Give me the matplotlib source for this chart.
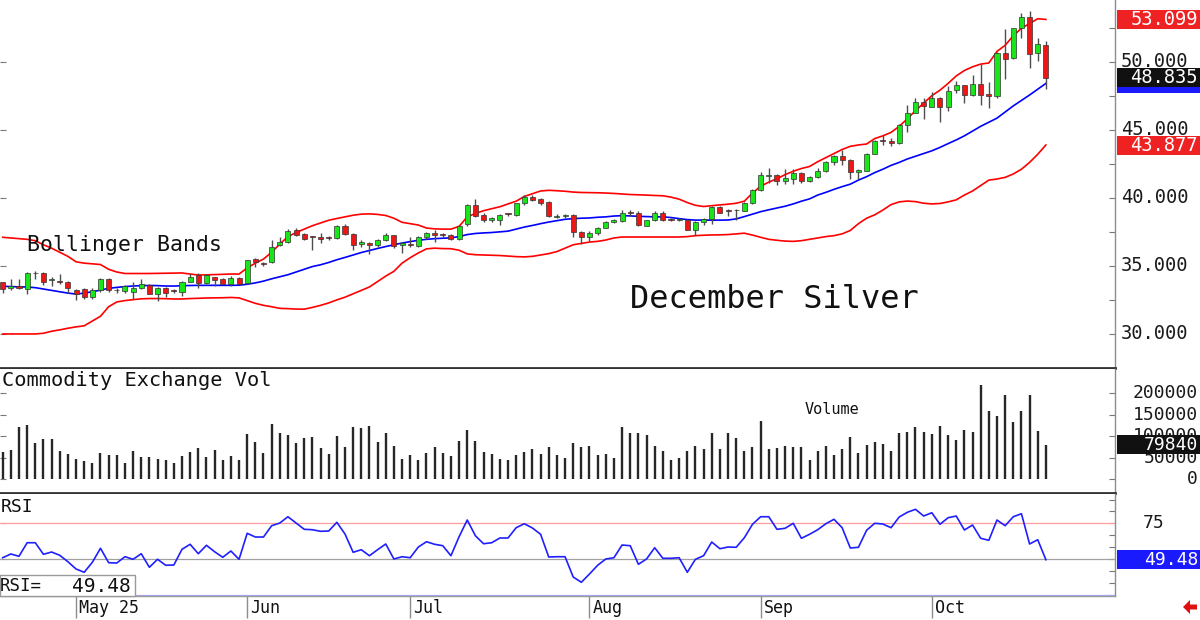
import matplotlib
matplotlib.use("Agg")
import matplotlib.pyplot as plt
from matplotlib.patches import Rectangle, Polygon
from matplotlib.transforms import blended_transform_factory
import numpy as np

# ---------------- data ----------------
opens = [33.8, 33.4, 33.5, 33.3, 34.5, 34.5, 33.95, 33.9, 33.8, 33.2,
         33.3, 32.75, 33.2, 34.05, 33.25, 33.15, 33.1, 33.4, 33.6, 32.95,
         33.4, 33.2, 33.1, 33.85, 34.3, 33.75, 34.15, 34.0, 33.65, 34.1,
         33.75, 35.5, 35.2, 35.25, 36.5, 36.75, 37.6, 37.35, 37.15, 37.1,
         37.1, 37.05, 37.9, 37.35, 36.6, 36.65, 36.55, 36.9, 37.25, 36.55,
         36.6, 36.45, 37.1, 37.4, 37.3, 37.3, 36.95, 38.05, 39.45, 38.75,
         38.35, 38.4, 38.82, 38.75, 39.6, 40.05, 39.9, 39.7, 38.6, 38.68,
         38.75, 37.5, 37.1, 37.4, 37.8, 38.2, 38.3, 38.95, 38.9, 37.95,
         38.35, 38.9, 38.45, 38.38, 38.4, 37.65, 38.22, 38.45, 39.35, 39.1,
         39.12, 39.05, 39.6, 40.6, 41.58, 41.65, 41.2, 41.35, 41.85, 41.2,
         41.5, 41.95, 42.6, 43.1, 42.8, 41.9, 42.0, 43.25, 44.22, 44.2,
         44.0, 45.35, 46.25, 47.05, 46.7, 47.35, 46.7, 47.95, 48.25, 47.55,
         48.35, 47.6, 47.45, 50.6, 50.25, 52.5, 53.3, 50.6, 51.25]
highs = [33.85, 34.0, 34.05, 34.55, 34.6, 34.55, 34.15, 34.4, 33.9, 33.3,
         33.35, 33.4, 34.1, 34.1, 33.4, 33.6, 33.8, 34.0, 33.65, 33.45,
         33.45, 33.3, 33.9, 34.4, 34.45, 34.4, 34.2, 34.1, 34.25, 34.15,
         35.45, 35.55, 35.3, 36.9, 37.1, 37.7, 37.75, 37.45, 37.2, 37.4,
         37.2, 38.0, 38.05, 37.4, 36.9, 36.75, 36.95, 37.4, 37.3, 36.75,
         37.15, 37.2, 37.5, 37.6, 37.4, 37.35, 38.0, 39.55, 39.9, 38.9,
         38.6, 38.8, 38.9, 39.65, 40.2, 40.2, 40.0, 39.75, 38.8, 38.8,
         38.8, 37.55, 37.55, 37.85, 38.3, 38.45, 39.1, 39.1, 39.0, 38.4,
         39.0, 39.05, 38.5, 38.5, 38.45, 38.3, 38.55, 39.4, 39.4, 39.15,
         39.2, 39.7, 40.65, 41.9, 42.2, 41.75, 42.1, 42.15, 41.9, 41.6,
         42.2, 42.7, 43.15, 43.5, 42.85, 42.15, 43.3, 44.25, 44.6, 44.4,
         45.4, 46.85, 47.3, 47.3, 47.8, 47.4, 48.2, 48.6, 48.3, 49.05,
         49.85, 48.5, 50.7, 52.4, 52.5, 53.55, 53.7, 51.7, 51.55]
lows = [33.0, 33.2, 33.3, 32.9, 34.0, 33.6, 33.5, 33.7, 33.0, 32.5,
        32.6, 32.6, 33.1, 33.1, 33.0, 33.0, 32.6, 33.3, 32.9, 32.4,
        32.7, 33.0, 32.8, 33.8, 33.4, 33.7, 33.5, 33.65, 33.55, 33.65,
        33.7, 34.9, 35.0, 35.2, 36.45, 36.7, 37.2, 36.9, 36.2, 36.7,
        36.9, 37.0, 37.25, 36.2, 36.4, 35.85, 36.4, 36.85, 36.3, 35.95,
        36.4, 36.4, 37.0, 36.75, 37.1, 36.9, 36.9, 37.9, 38.6, 38.2,
        38.25, 38.0, 38.7, 38.7, 39.5, 39.75, 39.45, 38.6, 38.5, 38.5,
        37.1, 36.6, 36.8, 37.3, 37.75, 38.15, 38.2, 38.7, 37.95, 37.9,
        38.3, 38.3, 38.3, 38.3, 37.6, 37.3, 38.0, 38.05, 38.85, 38.7,
        38.4, 39.0, 39.55, 40.5, 41.1, 40.95, 41.0, 41.0, 41.1, 41.15,
        41.45, 41.9, 42.4, 42.4, 41.4, 41.4, 41.95, 43.2, 43.85, 43.8,
        43.95, 44.8, 46.2, 45.8, 46.65, 45.6, 46.4, 47.7, 46.95, 47.5,
        46.8, 46.6, 47.3, 48.7, 50.2, 51.7, 49.55, 50.05, 48.0]
closes = [33.3, 33.5, 33.4, 34.5, 34.45, 33.8, 34.0, 33.8, 33.4, 32.95,
          32.75, 33.2, 34.05, 33.2, 33.2, 33.5, 33.4, 33.65, 32.95, 33.4,
          33.0, 33.15, 33.85, 34.2, 33.75, 34.3, 33.95, 33.7, 34.1, 33.7,
          35.4, 35.25, 35.15, 36.4, 36.75, 37.55, 37.25, 37.0, 37.1, 36.95,
          37.05, 37.9, 37.35, 36.55, 36.75, 36.55, 36.9, 37.25, 36.45, 36.65,
          36.5, 37.1, 37.4, 37.3, 37.25, 36.95, 37.95, 39.45, 38.7, 38.35,
          38.5, 38.75, 38.8, 39.6, 40.05, 39.85, 39.6, 38.7, 38.7, 38.72,
          37.5, 37.1, 37.45, 37.8, 38.25, 38.35, 38.85, 38.9, 38.0, 38.35,
          38.9, 38.4, 38.4, 38.42, 37.65, 38.25, 38.45, 39.3, 38.9, 39.0,
          39.08, 39.6, 40.6, 41.65, 41.62, 41.2, 41.45, 41.85, 41.2, 41.55,
          41.95, 42.6, 43.1, 42.8, 41.9, 42.05, 43.25, 44.2, 44.18, 44.0,
          45.35, 46.25, 47.0, 46.75, 47.35, 46.7, 47.85, 48.3, 47.55, 48.35,
          47.55, 47.45, 50.65, 50.2, 52.45, 53.3, 50.55, 51.3, 48.835]

bb_upper = [37.1, 37.05, 37.0, 36.95, 36.85, 36.55, 36.3, 36.0, 35.7, 35.3,
            35.2, 35.15, 35.1, 34.75, 34.55, 34.44, 34.44, 34.44, 34.44, 34.45,
            34.46, 34.47, 34.48, 34.4, 34.33, 34.34, 34.36, 34.38, 34.4, 34.4,
            34.85, 35.2, 35.5, 36.0, 36.6, 37.15, 37.45, 37.7, 37.95, 38.15,
            38.35, 38.48, 38.6, 38.72, 38.8, 38.82, 38.78, 38.7, 38.5, 38.2,
            38.1, 38.0, 37.78, 37.72, 37.7, 37.7, 37.9, 38.6, 38.85, 39.05,
            39.2, 39.34, 39.55, 39.75, 40.1, 40.3, 40.5, 40.55, 40.52, 40.48,
            40.42, 40.39, 40.38, 40.37, 40.35, 40.32, 40.28, 40.24, 40.22, 40.2,
            40.17, 40.15, 40.05, 39.9, 39.65, 39.45, 39.36, 39.42, 39.48, 39.53,
            39.6, 39.75, 40.35, 40.85, 41.15, 41.4, 41.7, 41.95, 42.15, 42.3,
            42.65, 42.95, 43.25, 43.55, 43.78, 43.88, 43.95, 44.35, 44.55, 44.8,
            45.25, 45.8, 46.4, 46.95, 47.5, 47.9, 48.4, 48.95, 49.35, 49.62,
            49.82, 49.9, 50.75, 51.2, 51.9, 52.45, 52.8, 53.15, 53.099]
bb_middle = [33.5, 33.48, 33.46, 33.45, 33.4, 33.3, 33.2, 33.1, 33.0, 32.93,
             33.0, 33.1, 33.22, 33.35, 33.42, 33.48, 33.52, 33.55, 33.56, 33.55,
             33.52, 33.52, 33.54, 33.56, 33.57, 33.57, 33.57, 33.57, 33.57, 33.58,
             33.65, 33.75, 33.88, 34.05, 34.2, 34.35, 34.55, 34.75, 34.95, 35.08,
             35.25, 35.45, 35.62, 35.8, 35.98, 36.13, 36.28, 36.42, 36.55, 36.68,
             36.78, 36.88, 36.95, 37.0, 37.03, 37.06, 37.15, 37.3, 37.38, 37.42,
             37.45, 37.5, 37.55, 37.7, 37.85, 37.97, 38.1, 38.22, 38.32, 38.42,
             38.47, 38.5, 38.52, 38.57, 38.6, 38.66, 38.69, 38.67, 38.64, 38.62,
             38.6, 38.6, 38.55, 38.47, 38.4, 38.36, 38.36, 38.36, 38.36, 38.37,
             38.45, 38.62, 38.8, 38.98, 39.12, 39.25, 39.38, 39.55, 39.75, 39.92,
             40.2, 40.4, 40.62, 40.82, 41.0, 41.3, 41.55, 41.85, 42.1, 42.38,
             42.6, 42.85, 43.05, 43.25, 43.45, 43.7, 43.98, 44.25, 44.55, 44.9,
             45.25, 45.55, 45.85, 46.3, 46.75, 47.15, 47.55, 47.98, 48.4]
bb_lower = [30.0, 30.0, 30.0, 30.0, 30.0, 30.05, 30.2, 30.3, 30.42, 30.52,
            30.6, 30.95, 31.3, 32.0, 32.35, 32.45, 32.52, 32.58, 32.6, 32.6,
            32.59, 32.57, 32.57, 32.6, 32.62, 32.64, 32.65, 32.66, 32.68, 32.65,
            32.45, 32.25, 32.1, 32.0, 31.88, 31.86, 31.83, 31.82, 31.95, 32.1,
            32.28, 32.5, 32.7, 32.95, 33.2, 33.45, 33.85, 34.25, 34.6, 35.2,
            35.6, 35.95, 36.25, 36.3, 36.27, 36.26, 36.15, 35.88, 35.82, 35.8,
            35.78, 35.76, 35.72, 35.68, 35.66, 35.7, 35.8, 35.9, 36.05, 36.3,
            36.55, 36.65, 36.75, 36.8, 36.9, 37.05, 37.12, 37.12, 37.12, 37.12,
            37.12, 37.12, 37.12, 37.12, 37.15, 37.22, 37.25, 37.27, 37.28, 37.3,
            37.35, 37.4, 37.26, 37.1, 36.95, 36.88, 36.82, 36.8, 36.85, 36.95,
            37.05, 37.15, 37.22, 37.35, 37.6, 38.1, 38.5, 38.75, 39.1, 39.5,
            39.7, 39.76, 39.72, 39.6, 39.55, 39.58, 39.7, 39.85, 40.2, 40.5,
            40.9, 41.3, 41.38, 41.5, 41.75, 42.1, 42.6, 43.2, 43.877]

volume = [63500, 67000, 122000, 126000, 84000, 93000, 93000, 65000, 58000, 46500,
          42600, 37000, 60000, 55000, 55000, 37000, 65000, 52000, 50500, 47000,
          43500, 36500, 54000, 63500, 71000, 52000, 67000, 44000, 54000, 44000,
          105000, 87000, 60500, 128000, 108000, 101500, 83000, 96000, 97700, 71000,
          58000, 100000, 75000, 120000, 118600, 123000, 85000, 107000, 77000, 46500,
          56000, 44000, 60000, 73700, 60500, 53500, 88000, 113000, 88000, 62000,
          57500, 46500, 44000, 55000, 63500, 70000, 57500, 73700, 55000, 49000,
          83000, 74400, 76000, 55000, 58000, 49000, 120000, 108000, 108000, 101500,
          77500, 64400, 43500, 49000, 66000, 76000, 70000, 108000, 70000, 108000,
          94600, 66000, 74400, 134000, 70000, 72800, 76000, 75000, 73700, 45000,
          66000, 77500, 55000, 70000, 97000, 60000, 79000, 85000, 81400, 66000,
          108000, 109000, 120000, 109000, 104000, 124000, 102000, 90700, 114000, 109000,
          218000, 158000, 147000, 195000, 133000, 159000, 195000, 111600, 79840]

rsi = [50.9, 53.5, 51.9, 61.4, 61.4, 53.3, 54.9, 52.6, 48.1, 43.0,
       40.7, 47.7, 57.5, 47.4, 47.2, 51.6, 49.8, 53.7, 44.2, 49.8,
       45.6, 45.8, 56.8, 60.3, 53.7, 59.6, 55.1, 51.2, 55.6, 49.8,
       68.0, 65.4, 65.4, 73.3, 75.2, 79.6, 75.2, 70.8, 70.5, 69.4,
       69.6, 75.7, 67.5, 54.7, 56.5, 52.3, 56.5, 60.5, 50.0, 51.6,
       50.9, 58.4, 62.1, 60.3, 59.3, 52.3, 65.6, 77.3, 66.3, 60.7,
       61.4, 64.7, 64.7, 71.9, 74.7, 71.7, 67.3, 51.4, 51.6, 51.6,
       37.4, 33.7, 39.5, 45.6, 50.0, 50.9, 59.8, 59.3, 46.3, 50.0,
       57.9, 50.5, 50.5, 50.9, 40.7, 49.8, 52.3, 61.9, 57.2, 58.4,
       58.2, 64.9, 74.3, 79.6, 79.6, 70.8, 71.5, 75.0, 64.5, 67.3,
       70.5, 74.7, 77.8, 71.9, 57.7, 58.2, 70.1, 75.0, 74.5, 71.9,
       79.4, 82.7, 84.8, 80.1, 82.4, 74.3, 78.9, 80.1, 70.3, 73.8,
       64.5, 63.1, 77.3, 73.3, 79.6, 81.7, 60.5, 63.5, 49.48]

month_labels = ["May 25", "Jun", "Jul", "Aug", "Sep", "Oct"]
month_start = [9, 30, 50, 72, 93, 114]

price_ticks = [30, 35, 40, 45, 50]
vol_ticks = [0, 50000, 100000, 150000, 200000]
rsi_ticks = [75]

# ---------------- layout helpers ----------------
W, H = 1200, 620
MONO = "DejaVu Sans Mono"
fig = plt.figure(figsize=(W / 100, H / 100), dpi=100)
fig.patch.set_facecolor("white")


def px_axes(x0, y0, x1, y1):
    return fig.add_axes([x0 / W, 1 - y1 / H, (x1 - x0) / W, (y1 - y0) / H])


def fx(x):
    return x / W


def fy(y):
    return 1 - y / H


ax = px_axes(0, 0, 1115, 368)
axv = px_axes(0, 369, 1115, 493)
axr = px_axes(0, 494, 1115, 596)

n = len(closes)
idx = np.arange(n)
XLIM = (-0.33, 136.48)

for a in (ax, axv, axr):
    a.set_xlim(*XLIM)
    a.set_facecolor("white")
    a.spines["left"].set_visible(False)
    a.spines["top"].set_visible(False)
    a.spines["right"].set_color("#8c8c8c")
    a.spines["right"].set_linewidth(1.0)
    a.set_xticks([])
    a.tick_params(axis="y", which="both", direction="in", left=True, right=True,
                  labelleft=False, labelright=False, color="#777777", width=0.8)
    a.tick_params(axis="y", which="major", length=4)
    a.tick_params(axis="y", which="minor", length=4, left=False)

ax.spines["bottom"].set_color("#333333")
ax.spines["bottom"].set_linewidth(2.0)
axv.spines["bottom"].set_color("#333333")
axv.spines["bottom"].set_linewidth(2.0)
axr.spines["bottom"].set_color("#9a9a9a")
axr.spines["bottom"].set_linewidth(1.0)

ax.set_ylim(28.739, 54.527)
axv.set_ylim(-32564, 255860)
axr.set_ylim(24.09, 95.52)

ax.set_yticks(price_ticks)
ax.set_yticks(np.arange(27.5, 55, 2.5), minor=True)
axv.set_yticks(vol_ticks)
axv.set_yticks(vol_ticks, minor=True)
axr.set_yticks([50, 75])
axr.set_yticks(np.arange(25, 95, 25 / 3), minor=True)

# ---------------- price panel ----------------
GREEN = "#19e619"
RED = "#ee1515"
ax.plot(idx, bb_upper, color="#ff0000", lw=1.2, zorder=2)
ax.plot(idx, bb_lower, color="#ff0000", lw=1.2, zorder=2)
ax.plot(idx, bb_middle, color="#0000ff", lw=1.2, zorder=2)

o = np.array(opens)
c = np.array(closes)
ax.vlines(idx, lows, highs, color="#4d4d4d", lw=1.0, zorder=3)
body_lo = np.minimum(o, c)
body_h = np.maximum(np.abs(c - o), 0.06)
colors = [GREEN if cc >= oo else RED for oo, cc in zip(o, c)]
ax.bar(idx, body_h, bottom=body_lo, width=0.62, color=colors,
       edgecolor="#333333", linewidth=0.5, zorder=4)

# ---------------- volume panel ----------------
axv.vlines(idx, 0, volume, color="#262626", lw=1.7)

# ---------------- RSI panel ----------------
axr.axhline(75, color="#ff9c9c", lw=0.9)
axr.axhline(50, color="#a0a0a0", lw=0.9)
axr.axhline(25, color="#a8a8ff", lw=0.9)
axr.plot(idx, rsi, color="#1f1fff", lw=1.2)

# ---------------- right-hand labels ----------------


def right_text(a, yval, s, color="#1a1a1a", size=13.5, ha="left", xpx=1121):
    tr = blended_transform_factory(fig.transFigure, a.transData)
    a.text(fx(xpx), yval, s, transform=tr, ha=ha, va="center", color=color,
           fontsize=size, family=MONO, clip_on=False, zorder=6)


def right_box(a, yval, s, face, size=13.5, hpx=19, text_color="white"):
    tr = blended_transform_factory(fig.transFigure, a.transData)
    y0, y1 = a.get_ylim()
    ppu = a.get_position().height * H / (y1 - y0)
    h = hpx / ppu
    a.add_patch(Rectangle((fx(1116.5), yval - h / 2), fx(1200) - fx(1116.5), h,
                          transform=tr, facecolor=face, edgecolor="none",
                          clip_on=False, zorder=7))
    if s:
        a.text(fx(1198), yval, s, transform=tr, ha="right", va="center",
               color=text_color, fontsize=size, family=MONO, clip_on=False,
               zorder=8)


for t in price_ticks:
    right_text(ax, t, f"{t:.3f}")
right_box(ax, bb_upper[-1], f"{bb_upper[-1]:.3f}", "#ee2222")
right_box(ax, bb_middle[-1], "", "#1a1aff")
right_box(ax, closes[-1], f"{closes[-1]:.3f}", "#111111")
right_box(ax, bb_lower[-1], f"{bb_lower[-1]:.3f}", "#ee2222")

for t in vol_ticks:
    right_text(axv, t, f"{t:d}", size=13, ha="right", xpx=1198)
right_box(axv, volume[-1], f"{volume[-1]:d}", "#111111", size=13)

for t in rsi_ticks:
    right_text(axr, t, f"{t:d}", size=13, ha="right", xpx=1164)
right_box(axr, rsi[-1], f"{rsi[-1]:.2f}", "#1a1aff", size=13)

# ---------------- panel captions ----------------
fig.text(fx(27), fy(245), "Bollinger Bands", family=MONO, fontsize=15.5,
         color="#111111", va="center", ha="left")
fig.text(fx(630), fy(300), "December Silver", family=MONO, fontsize=23,
         color="#111111", va="center", ha="left")
fig.text(fx(2), fy(381), "Commodity Exchange Vol", family=MONO, fontsize=14.6,
         color="#111111", va="center", ha="left")
fig.text(fx(805), fy(410), "Volume", family=MONO, fontsize=11,
         color="#111111", va="center", ha="left")
fig.text(fx(1), fy(507), "RSI", family=MONO, fontsize=13,
         color="#111111", va="center", ha="left")

# RSI value box (bottom-left)
fig.patches.append(Rectangle((fx(0), fy(596)), fx(135), fy(575) - fy(596),
                             transform=fig.transFigure, facecolor="white",
                             edgecolor="#9a9a9a", lw=1.0, zorder=5))
fig.text(fx(0), fy(586), "RSI=", family=MONO, fontsize=12.5, color="#111111",
         va="center", ha="left", zorder=6)
fig.text(fx(131), fy(586), f"{rsi[-1]:.2f}", family=MONO, fontsize=14,
         color="#111111", va="center", ha="right", zorder=6)

# ---------------- month axis ----------------
axr.set_xticks(month_start)
axr.set_xticklabels([])
axr.tick_params(axis="x", direction="out", length=16, width=1.0,
                color="#8c8c8c", bottom=True)
trx = blended_transform_factory(axr.transData, fig.transFigure)
for pos, lab in zip(month_start, month_labels):
    axr.text(pos + 0.35, fy(608), lab, transform=trx, family=MONO, fontsize=12,
             color="#111111", va="center", ha="left", clip_on=False)

# red arrow at bottom right
arrow = Polygon([(fx(1183), fy(607)), (fx(1190), fy(600)), (fx(1190), fy(604.5)),
                 (fx(1197), fy(604.5)), (fx(1197), fy(609.5)), (fx(1190), fy(609.5)),
                 (fx(1190), fy(614))], closed=True, transform=fig.transFigure,
                facecolor="#e01010", edgecolor="none")
fig.patches.append(arrow)

fig.savefig("out.png", dpi=100, facecolor="white")
